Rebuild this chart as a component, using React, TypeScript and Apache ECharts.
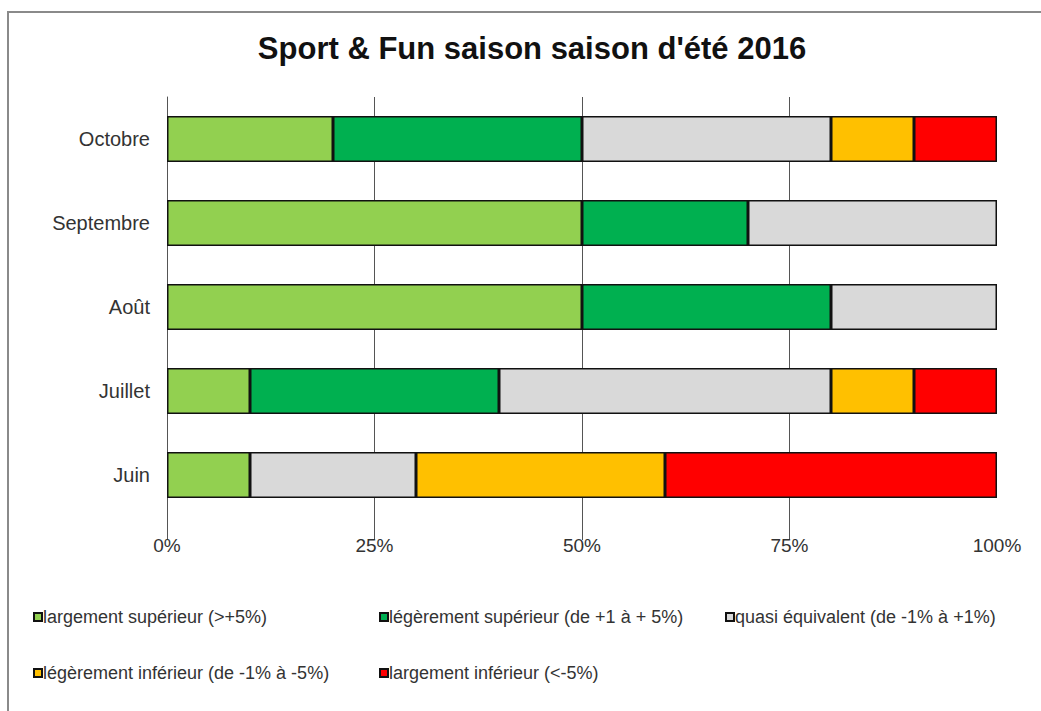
import React, { useEffect, useRef } from "react";
import * as echarts from "echarts";

const categories = ["Juin", "Juillet", "Août", "Septembre", "Octobre"];
const seriesNames = [
  "largement supérieur (>+5%)",
  "légèrement supérieur (de +1 à + 5%)",
  "quasi équivalent (de -1% à +1%)",
  "légèrement inférieur (de -1% à -5%)",
  "largement inférieur (<-5%)",
];
const largementSup = [10, 10, 50, 50, 20];
const legerementSup = [0, 30, 30, 20, 30];
const quasiEquivalent = [20, 40, 20, 30, 30];
const legerementInf = [30, 10, 0, 0, 10];
const largementInf = [40, 10, 0, 0, 10];
const colors = ["#92D050", "#00B050", "#D9D9D9", "#FFC000", "#FF0000"];
const tickValues = [0, 25, 50, 75, 100];

const allValues = [largementSup, legerementSup, quasiEquivalent, legerementInf, largementInf];

const legendPos = [
  { left: 33, top: 608 },
  { left: 379, top: 608 },
  { left: 725, top: 608 },
  { left: 33, top: 664 },
  { left: 379, top: 664 },
];

const lineColor = "#555";
const gridLineColors = tickValues.map((v) => (v === 100 ? "rgba(0,0,0,0)" : lineColor));

export default function App() {
  const ref = useRef<HTMLDivElement>(null);
  useEffect(() => {
    if (!ref.current) return;
    const chart = echarts.init(ref.current, undefined, { renderer: "svg" });
    const font = "Liberation Sans, Arial, sans-serif";
    chart.setOption({
      animation: false,
      backgroundColor: "#ffffff",
      title: {
        text: "Sport & Fun saison saison d'été 2016",
        left: 527,
        textAlign: "center",
        top: 28,
        textStyle: { fontFamily: font, fontSize: 31, fontWeight: "bold", color: "#111" },
      },
      graphic: [
        {
          type: "rect",
          shape: { x: 8, y: 12, width: 1100, height: 800 },
          style: { fill: "none", stroke: "#8a8a8a", lineWidth: 2 },
          silent: true,
        },
      ],
      legend: seriesNames.map((n, i) => ({
        data: [n],
        left: legendPos[i].left,
        top: legendPos[i].top,
        padding: 0,
        icon: "rect",
        itemWidth: 8,
        itemHeight: 8,
        itemGap: 0,
        selectedMode: false,
        textStyle: { fontFamily: font, fontSize: 18, color: "#333", padding: [0, 0, 0, -4] },
      })),
      grid: [
        { left: 167, right: 44, top: 97, height: 420, containLabel: false },
        { left: 167, right: 44, top: 517, height: 23, containLabel: false },
      ],
      xAxis: [
        {
          type: "value",
          min: 0,
          max: 100,
          interval: 25,
          axisLine: { show: false },
          axisTick: { show: false },
          axisLabel: {
            margin: 19,
            fontFamily: font,
            fontSize: 19,
            color: "#333",
            formatter: (v: number) => v + "%",
          },
          splitLine: { show: true, lineStyle: { color: gridLineColors, width: 1 } },
        },
        {
          type: "value",
          gridIndex: 1,
          min: 0,
          max: 100,
          interval: 25,
          axisLine: { show: false },
          axisTick: { show: false },
          axisLabel: { show: false },
          splitLine: { show: true, lineStyle: { color: gridLineColors, width: 1 } },
        },
      ],
      yAxis: [
        {
          type: "category",
          data: categories,
          axisLine: { show: true, lineStyle: { color: lineColor, width: 1 } },
          axisTick: { show: false },
          axisLabel: { margin: 17, fontFamily: font, fontSize: 20, color: "#333" },
        },
        {
          type: "value",
          gridIndex: 1,
          min: 0,
          max: 1,
          show: false,
        },
      ],
      series: seriesNames.map((n, i) => ({
        name: n,
        type: "bar",
        stack: "total",
        barWidth: "55%",
        data: allValues[i].map((v) => (v === 0 ? "-" : v)),
        itemStyle: { color: colors[i], borderColor: "#111", borderWidth: 1.5 },
      })),
    });
    return () => chart.dispose();
  }, []);
  return (
    <div
      ref={ref}
      style={{ position: "fixed", left: 0, top: 0, width: 1041, height: 711 }}
    />
  );
}
